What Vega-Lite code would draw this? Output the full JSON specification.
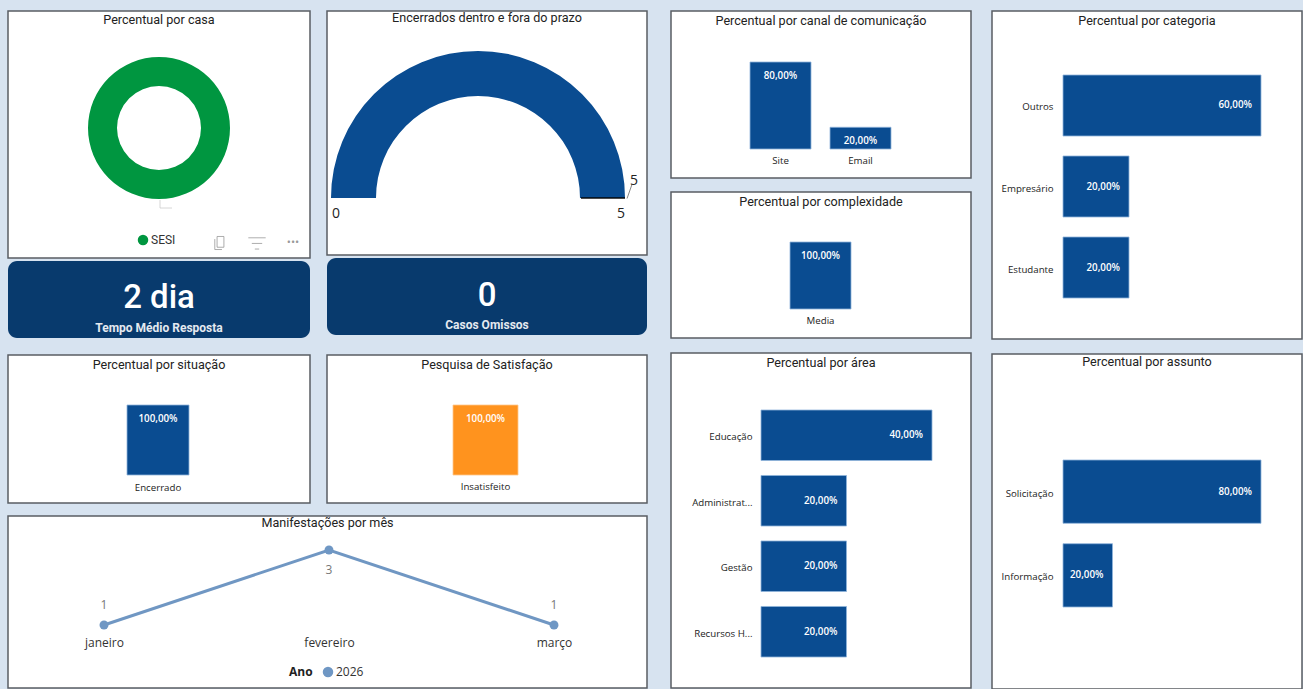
{
"$schema":"https://vega.github.io/schema/vega-lite/v6.json",
"background":"#d7e3f0",
"padding":{"left":7,"top":10,"right":0,"bottom":0},
"config":{"view":{"fill":"#ffffff","stroke":"#5a5e63","strokeWidth":1.5},"title":{"font":"Roboto","fontSize":12.6,"fontWeight":"normal","color":"#222222","anchor":"middle","baseline":"top"},"axis":{"grid":false,"domain":false,"ticks":false,"labelFont":"Open Sans","labelFontSize":9.7,"labelColor":"#222222","title":null,"labelAngle":0},"text":{"font":"Open Sans"}},
"resolve":{"legend":{"color":"independent","fill":"independent"}},
"hconcat":[
{"spacing":11,"resolve":{"legend":{"color":"independent","fill":"independent"}},"vconcat":[
 {"spacing":15,"resolve":{"legend":{"color":"independent","fill":"independent"}},"hconcat":[
  {"spacing":16,"resolve":{"legend":{"color":"independent","fill":"independent"}},"vconcat":[
   {"spacing":2,"resolve":{"legend":{"color":"independent","fill":"independent"}},"vconcat":[
    {"width":302,"height":247,"view":{"fill":"#ffffff","stroke":"#5a5e63","strokeWidth":1.5},"title":{"text":"Percentual por casa","offset":-16},
     "layer":[
      {"data":{"values":[{"casa":"SESI","percentual":100}]},
       "mark":{"type":"arc","radius":71,"radius2":42,"yOffset":-6.5},
       "encoding":{"theta":{"field":"percentual","type":"quantitative"},"color":{"field":"casa","type":"nominal","scale":{"range":["#009640"]},"legend":{"title":null,"orient":"none","legendX":129,"legendY":223,"symbolType":"circle","symbolSize":110,"labelFont":"Roboto","labelFontSize":12,"labelColor":"#333333","labelOffset":2}}}},
      {"data":{"values":[{"icone":"copiar"}]},"mark":{"type":"point","shape":"M-0.45,-1 H0.6 V0.65 H-0.45 Z M-0.8,-0.6 V1 H0.3","size":170,"stroke":"#8a8a8a","fill":null,"filled":false,"strokeWidth":1,"xOffset":61,"yOffset":108.5},"encoding":{}},
      {"data":{"values":[{"icone":"filtro"}]},"mark":{"type":"point","shape":"M-1,-0.6 H1 M-0.6,0.05 H0.6 M-0.25,0.7 H0.25","size":300,"stroke":"#8a8a8a","fill":null,"filled":false,"strokeWidth":1,"xOffset":98,"yOffset":108.5},"encoding":{}},
      {"data":{"values":[{"icone":"•••"}]},"mark":{"type":"text","fontSize":11,"color":"#999999","dx":134,"dy":108.5},"encoding":{"text":{"field":"icone"}}},
      {"data":{"values":[{"icone":"guia"}]},"mark":{"type":"point","shape":"M-1,-0.67 V0.67 H1","size":144,"stroke":"#c4c4c4","fill":null,"filled":false,"strokeWidth":1,"xOffset":7,"yOffset":69.5},"encoding":{}}
     ]},
    {"width":302,"height":77,"view":{"fill":"#083a6d","stroke":null,"cornerRadius":9},
     "data":{"values":[{"valor":"2 dia","rotulo":"Tempo Médio Resposta"}]},
     "layer":[
      {"mark":{"type":"text","font":"Roboto","fontSize":33,"fontWeight":500,"color":"#ffffff","dy":-2},"encoding":{"text":{"field":"valor"}}},
      {"mark":{"type":"text","font":"Roboto","fontSize":12,"fontWeight":"bold","color":"#e4e9f0","dy":28},"encoding":{"text":{"field":"rotulo"}}}
     ]}
   ]},
   {"width":302,"height":148,"title":{"text":"Percentual por situação","offset":-17},
    "data":{"values":[{"situacao":"Encerrado","percentual":100,"rotulo":"100,00%"}]},
    "encoding":{"x":{"field":"situacao","type":"nominal","scale":{"range":[119,181],"paddingInner":0,"paddingOuter":0},"axis":{"offset":-28,"labelPadding":7}},"y":{"field":"percentual","type":"quantitative","scale":{"domain":[0,100],"range":[120,50]},"axis":null}},
    "layer":[
     {"mark":{"type":"bar","color":"#0a4c91","stroke":"#8fb4da","strokeWidth":0.8}},
     {"mark":{"type":"text","color":"#ffffff","fontSize":9.8,"fontWeight":600,"dy":14},"encoding":{"text":{"field":"rotulo"}}}
    ]}
  ]},
  {"spacing":19,"resolve":{"legend":{"color":"independent","fill":"independent"}},"vconcat":[
   {"spacing":2,"resolve":{"legend":{"color":"independent","fill":"independent"}},"vconcat":[
    {"width":320,"height":244,"view":{"fill":"#ffffff","stroke":"#5a5e63","strokeWidth":1.5},"title":{"text":"Encerrados dentro e fora do prazo","offset":-14},
     "data":{"values":[{"minimo":0,"maximo":5,"valor":5}]},
     "layer":[
      {"mark":{"type":"arc","radius":147,"radius2":102,"color":"#0a4c91","xOffset":-9,"yOffset":65},"encoding":{"theta":{"field":"valor","type":"quantitative","scale":{"domain":[0,5],"range":[-1.5708,1.5708]}}}},
      {"mark":{"type":"point","shape":"M-1,0 H1","size":1936,"stroke":"#000000","strokeWidth":2,"filled":false,"xOffset":116,"yOffset":65},"encoding":{}},
      {"mark":{"type":"point","shape":"M-0.35,1 L0.35,-1","size":196,"stroke":"#555555","strokeWidth":1,"filled":false,"xOffset":142.5,"yOffset":58.5},"encoding":{}},
      {"mark":{"type":"text","fontSize":14,"color":"#222222","dx":-151,"dy":81},"encoding":{"text":{"field":"minimo"}}},
      {"mark":{"type":"text","fontSize":14,"color":"#222222","dx":134,"dy":81},"encoding":{"text":{"field":"maximo"}}},
      {"mark":{"type":"text","fontSize":14,"color":"#222222","dx":147,"dy":48},"encoding":{"text":{"field":"valor"}}}
     ]},
    {"width":320,"height":77,"view":{"fill":"#083a6d","stroke":null,"cornerRadius":9},
     "data":{"values":[{"valor":"0","rotulo":"Casos Omissos"}]},
     "layer":[
      {"mark":{"type":"text","font":"Roboto","fontSize":33,"fontWeight":500,"color":"#ffffff","dy":-1},"encoding":{"text":{"field":"valor"}}},
      {"mark":{"type":"text","font":"Roboto","fontSize":12,"fontWeight":"bold","color":"#e4e9f0","dy":28},"encoding":{"text":{"field":"rotulo"}}}
     ]}
   ]},
   {"width":320,"height":148,"title":{"text":"Pesquisa de Satisfação","offset":-17},
    "data":{"values":[{"satisfacao":"Insatisfeito","percentual":100,"rotulo":"100,00%"}]},
    "encoding":{"x":{"field":"satisfacao","type":"nominal","scale":{"range":[126,191],"paddingInner":0,"paddingOuter":0},"axis":{"offset":-28,"labelPadding":6}},"y":{"field":"percentual","type":"quantitative","scale":{"domain":[0,100],"range":[120,50]},"axis":null}},
    "layer":[
     {"mark":{"type":"bar","color":"#ff931e","stroke":"#ffc68a","strokeWidth":0.8}},
     {"mark":{"type":"text","color":"#ffffff","fontSize":9.8,"fontWeight":600,"dy":14},"encoding":{"text":{"field":"rotulo"}}}
    ]}
  ]}
 ]},
 {"width":639,"height":172,"title":{"text":"Manifestações por mês","offset":-14},
  "data":{"values":[{"mes":"janeiro","valor":1,"ano":"2026"},{"mes":"fevereiro","valor":3,"ano":"2026"},{"mes":"março","valor":1,"ano":"2026"}]},
  "encoding":{"x":{"field":"mes","type":"nominal","sort":null,"scale":{"type":"point","range":[96,546],"padding":0},"axis":{"offset":-54,"labelPadding":3,"labelFontSize":12,"labelColor":"#333333"}},"y":{"field":"valor","type":"quantitative","scale":{"domain":[1,3],"range":[109,34]},"axis":null}},
  "layer":[
   {"mark":{"type":"line","color":"#7097c3","strokeWidth":3}},
   {"mark":{"type":"point","filled":true,"size":80,"opacity":1},"encoding":{"fill":{"field":"ano","type":"nominal","scale":{"range":["#6f97c4"]},"legend":{"title":"Ano","orient":"none","legendX":281,"legendY":150,"direction":"horizontal","titleOrient":"left","titleFont":"Open Sans","titleFontSize":12,"titleFontWeight":"bold","titleColor":"#222222","titlePadding":9,"symbolType":"circle","symbolSize":110,"labelFont":"Open Sans","labelFontSize":12,"labelColor":"#333333","labelOffset":2}}}},
   {"transform":[{"filter":"datum.valor == 1"}],"mark":{"type":"text","fontSize":12,"color":"#777777","dy":-20},"encoding":{"text":{"field":"valor"}}},
   {"transform":[{"filter":"datum.valor == 3"}],"mark":{"type":"text","fontSize":12,"color":"#777777","dy":20},"encoding":{"text":{"field":"valor"}}}
  ]}
]},
{"spacing":19,"hconcat":[
 {"spacing":13,"vconcat":[
  {"spacing":12,"vconcat":[
   {"width":300,"height":167,"title":{"text":"Percentual por canal de comunicação","offset":-17},
    "data":{"values":[{"canal":"Site","percentual":80,"rotulo":"80,00%"},{"canal":"Email","percentual":20,"rotulo":"20,00%"}]},
    "encoding":{"x":{"field":"canal","type":"nominal","sort":null,"scale":{"range":[79,220],"paddingInner":0.2375,"paddingOuter":0},"axis":{"offset":-29,"labelPadding":6}},"y":{"field":"percentual","type":"quantitative","scale":{"domain":[0,80],"range":[138,51]},"axis":null}},
    "layer":[
     {"mark":{"type":"bar","color":"#0a4c91","stroke":"#8fb4da","strokeWidth":0.8}},
     {"mark":{"type":"text","color":"#ffffff","fontSize":9.8,"fontWeight":600,"dy":14},"encoding":{"text":{"field":"rotulo"}}}
    ]},
   {"width":300,"height":146,"title":{"text":"Percentual por complexidade","offset":-17},
    "data":{"values":[{"complexidade":"Media","percentual":100,"rotulo":"100,00%"}]},
    "encoding":{"x":{"field":"complexidade","type":"nominal","scale":{"range":[119,180],"paddingInner":0,"paddingOuter":0},"axis":{"offset":-29,"labelPadding":6}},"y":{"field":"percentual","type":"quantitative","scale":{"domain":[0,100],"range":[117,50]},"axis":null}},
    "layer":[
     {"mark":{"type":"bar","color":"#0a4c91","stroke":"#8fb4da","strokeWidth":0.8}},
     {"mark":{"type":"text","color":"#ffffff","fontSize":9.8,"fontWeight":600,"dy":14},"encoding":{"text":{"field":"rotulo"}}}
    ]}
  ]},
  {"width":300,"height":335,"title":{"text":"Percentual por área","offset":-17},
   "data":{"values":[{"area":"Educação","percentual":40,"rotulo":"40,00%"},{"area":"Administrat...","percentual":20,"rotulo":"20,00%"},{"area":"Gestão","percentual":20,"rotulo":"20,00%"},{"area":"Recursos H...","percentual":20,"rotulo":"20,00%"}]},
   "encoding":{"y":{"field":"area","type":"nominal","sort":null,"scale":{"range":[57,304],"paddingInner":0.229,"paddingOuter":0},"axis":{"offset":-90,"labelPadding":9,"labelOffset":2}},"x":{"field":"percentual","type":"quantitative","scale":{"domain":[0,40],"range":[90,261]},"axis":null}},
   "layer":[
    {"mark":{"type":"bar","color":"#0a4c91","stroke":"#8fb4da","strokeWidth":0.8}},
    {"mark":{"type":"text","color":"#ffffff","fontSize":9.8,"fontWeight":600,"align":"right","dx":-9,"dy":0},"encoding":{"text":{"field":"rotulo"}}}
   ]}
 ]},
 {"spacing":13,"vconcat":[
  {"width":310,"height":328,"title":{"text":"Percentual por categoria","offset":-17},
   "data":{"values":[{"categoria":"Outros","percentual":60,"rotulo":"60,00%"},{"categoria":"Empresário","percentual":20,"rotulo":"20,00%"},{"categoria":"Estudante","percentual":20,"rotulo":"20,00%"}]},
   "encoding":{"y":{"field":"categoria","type":"nominal","sort":null,"scale":{"range":[64,287],"paddingInner":0.247,"paddingOuter":0},"axis":{"offset":-71,"labelPadding":10,"labelOffset":2}},"x":{"field":"percentual","type":"quantitative","scale":{"domain":[0,60],"range":[71,269]},"axis":null}},
   "layer":[
    {"mark":{"type":"bar","color":"#0a4c91","stroke":"#8fb4da","strokeWidth":0.8}},
    {"mark":{"type":"text","color":"#ffffff","fontSize":9.8,"fontWeight":600,"align":"right","dx":-9,"dy":0},"encoding":{"text":{"field":"rotulo"}}}
   ]},
  {"width":310,"height":335,"title":{"text":"Percentual por assunto","offset":-15},
   "data":{"values":[{"assunto":"Solicitação","percentual":80,"rotulo":"80,00%"},{"assunto":"Informação","percentual":20,"rotulo":"20,00%"}]},
   "encoding":{"y":{"field":"assunto","type":"nominal","sort":null,"scale":{"range":[106,253],"paddingInner":0.244,"paddingOuter":0},"axis":{"offset":-71,"labelPadding":10,"labelOffset":2}},"x":{"field":"percentual","type":"quantitative","scale":{"domain":[0,80],"range":[71,269]},"axis":null}},
   "layer":[
    {"mark":{"type":"bar","color":"#0a4c91","stroke":"#8fb4da","strokeWidth":0.8}},
    {"mark":{"type":"text","color":"#ffffff","fontSize":9.8,"fontWeight":600,"align":"right","dx":-9,"dy":0},"encoding":{"text":{"field":"rotulo"}}}
   ]}
 ]}
]}
],
"spacing":22
}
